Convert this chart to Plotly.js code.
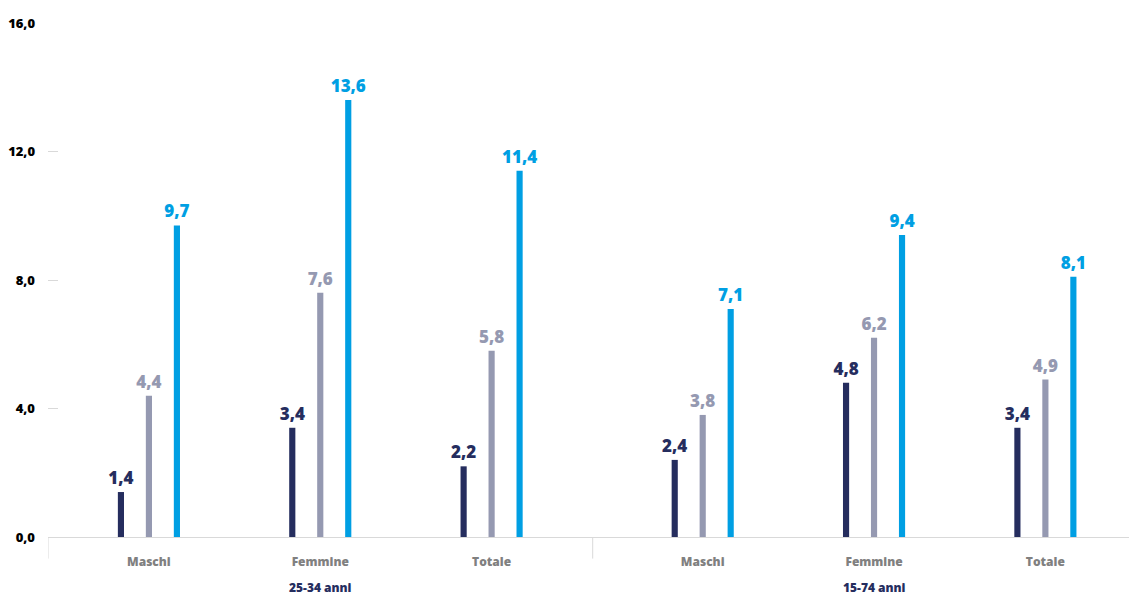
<!DOCTYPE html>
<html>
<head>
<meta charset="utf-8">
<script src="https://cdn.plot.ly/plotly-3.0.1.min.js"></script>
<style>html,body{margin:0;padding:0;background:#fff;}#chart{width:1129px;height:597px;}</style>
</head>
<body>
<div id="chart"></div>
<script>
// ---- data ----
const groups = ["25-34 anni", "15-74 anni"];
const categories = ["Maschi", "Femmine", "Totale"];
const seriesNames = ["Serie 1", "Serie 2", "Serie 3"];
const seriesA = [1.4, 3.4, 2.2, 2.4, 4.8, 3.4];
const seriesB = [4.4, 7.6, 5.8, 3.8, 6.2, 4.9];
const seriesC = [9.7, 13.6, 11.4, 7.1, 9.4, 8.1];
const yTicks = [0, 4, 8, 12, 16];

// ---- layout helpers ----
const colors = ["#252d5e", "#9599b1", "#009fe3"];
const groupGap = 0.232; // extra space between the two groups (in category units)
const xPos = [];
const xLabels = [];
groups.forEach((g, gi) => {
  categories.forEach((c, ci) => {
    xPos.push(gi * (categories.length + groupGap) + ci);
    xLabels.push(c);
  });
});
const groupCenters = groups.map((g, gi) => gi * (categories.length + groupGap) + (categories.length - 1) / 2);
const leftEdge = -0.589;
const sepX = 2.59;
const rightEdge = 5.72;

const allSeries = [seriesA, seriesB, seriesC];
const fontFam = "'Open Sans', Lato, 'DejaVu Sans', sans-serif";
const traces = allSeries.map((vals, i) => ({
  type: "bar",
  name: seriesNames[i],
  x: xPos,
  y: vals,
  marker: {color: colors[i]},
  texttemplate: "%{y:.1f}",
  textposition: "outside",
  constraintext: "none",
  cliponaxis: false,
  textfont: {family: fontFam, size: 17, color: colors[i], weight: 800},
  hoverinfo: "x+y"
}));

const shapes = [
  {type: "line", xref: "x", yref: "paper", x0: leftEdge, x1: leftEdge, y0: 0, y1: -0.042, line: {color: "#d9d9d9", width: 1}},
  {type: "line", xref: "x", yref: "paper", x0: sepX, x1: sepX, y0: 0, y1: -0.042, line: {color: "#d9d9d9", width: 1}}
];
const annotations = groups.map((g, gi) => ({
  x: groupCenters[gi], xref: "x", y: -0.098, yref: "paper",
  text: g, showarrow: false, yanchor: "middle",
  font: {family: fontFam, size: 12, color: "#252d5e", weight: 800}
}));

const layout = {
  width: 1129, height: 597,
  margin: {l: 48, r: 0, t: 23, b: 60},
  paper_bgcolor: "#ffffff", plot_bgcolor: "#ffffff",
  showlegend: false,
  barmode: "group",
  bargap: 0.51,
  bargroupgap: 0.78,
  separators: ",.",
  xaxis: {
    type: "linear",
    range: [leftEdge, rightEdge],
    tickvals: xPos, ticktext: xLabels,
    ticks: "", showgrid: false, zeroline: false,
    showline: true, linecolor: "#d9d9d9", linewidth: 1,
    tickfont: {family: fontFam, size: 12, color: "#808080", weight: 800},
    ticklabelstandoff: 14
  },
  yaxis: {
    range: [0, 16], tickvals: yTicks, tickformat: ".1f",
    showgrid: false, zeroline: false, showline: false,
    ticks: "inside", ticklen: 10, tickcolor: "#d9d9d9", tickwidth: 1,
    tickfont: {family: fontFam, size: 13, color: "#000000", weight: 800},
    ticklabelstandoff: 12
  },
  shapes: shapes,
  annotations: annotations
};

Plotly.newPlot("chart", traces, layout, {displayModeBar: false, staticPlot: true});
</script>
</body>
</html>
